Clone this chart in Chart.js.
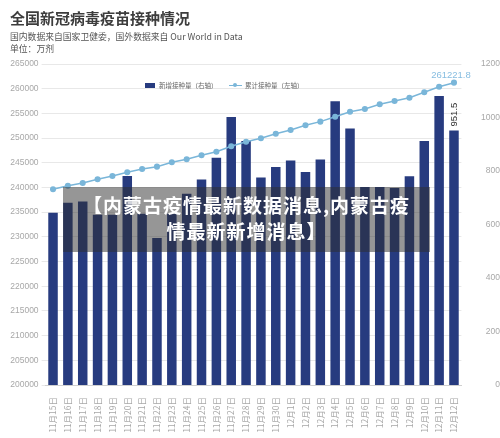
<!DOCTYPE html>
<html>
<head>
<meta charset="utf-8">
<script src="https://cdn.jsdelivr.net/npm/chart.js@4.4.1/dist/chart.umd.min.js"></script>
<style>
  html, body { margin: 0; padding: 0; background: #fff; }
  #wrap { position: relative; width: 500px; height: 438px; overflow: hidden;
          font-family: "Liberation Sans", "Noto Sans CJK SC", sans-serif; }
  #chart { position: absolute; left: 0; top: 0; }
  .title { position: absolute; left: 10px; top: 7px; font: bold 15px "Noto Sans CJK SC", sans-serif; color: #3d3d3d; }
  .sub { position: absolute; left: 10px; font-size: 8.8px; color: #555; font-family: "Noto Sans CJK SC", sans-serif; }
  .legend { position: absolute; top: 79px; left: 145px; font-size: 6.5px; color: #666; font-family: "Noto Sans CJK SC", sans-serif; }
  .legend span { display: inline-block; vertical-align: middle; }
  .sw { width: 10px; height: 5px; background: #273b7f; margin-right: 4px; }
  .ln { position: relative; width: 13px; height: 1px; background: #7ab6d9; margin: 0 3px 0 10px; }
  .ln:after { content: ""; position: absolute; left: 4.5px; top: -1.5px; width: 4px; height: 4px; border-radius: 50%; background: #7ab6d9; }
  .overlay { position: absolute; left: 63px; top: 187px; width: 367px; height: 65px;
             background: rgba(45, 45, 45, 0.5); color: #fff; text-align: center;
             font: bold 19px/26px "Noto Sans CJK SC", sans-serif; letter-spacing: 1px; padding-top: 5px; box-sizing: border-box; }
</style>
</head>
<body>
<div id="wrap">
  <canvas id="chart" width="500" height="438"></canvas>
  <div class="title">全国新冠病毒疫苗接种情况</div>
  <div class="sub" style="top:30px">国内数据来自国家卫健委，国外数据来自 Our World in Data</div>
  <div class="sub" style="top:42px">单位：万剂</div>
  <div class="legend">
    <span class="sw"></span><span>新增接种量（右轴）</span>
    <span class="ln"></span><span>累计接种量（左轴）</span>
  </div>
  <div class="overlay">【内蒙古疫情最新数据消息,内蒙古疫<br>情最新新增消息】</div>
</div>
<script>
// 日期
var days = ['11月15日', '11月16日', '11月17日', '11月18日', '11月19日', '11月20日', '11月21日',
    '11月22日', '11月23日', '11月24日', '11月25日', '11月26日', '11月27日', '11月28日',
    '11月29日', '11月30日', '12月1日', '12月2日', '12月3日', '12月4日', '12月5日',
    '12月6日', '12月7日', '12月8日', '12月9日', '12月10日', '12月11日', '12月12日'];

// 新增接种量（右轴，万剂）
var newDoses = [644, 681, 686, 636, 636, 781, 640, 550, 640, 715, 768, 850, 1002, 912,
    776, 815, 839, 796, 843, 1061, 959, 740, 740, 736, 780, 912, 1080, 951.5];

// 累计接种量（左轴，万剂）
var totalDoses = [239630, 240360, 240900, 241650, 242320, 243070, 243740, 244210, 245120,
    245700, 246510, 247240, 248340, 249270, 249960, 250890, 251640, 252590, 253330,
    254330, 255340, 255890, 256840, 257510, 258180, 259270, 260400, 261221.8];

// 坐标轴刻度
var leftAxis = {min: 200000, max: 265000, step: 5000};
var rightAxis = {min: 0, max: 1200, step: 200};

var tickColor = '#a8a8a8';
var numFont = '"Liberation Sans", Arial, sans-serif';

// 不要千分位
function plainTick(value) {
    return String(value);
}

// 最后一个点 / 柱子的数值标注
var lastLabels = {
    id: 'lastLabels',
    afterDatasetsDraw: function (chart) {
        var ctx = chart.ctx;
        var n = days.length - 1;
        var pt = chart.getDatasetMeta(1).data[n];
        var bar = chart.getDatasetMeta(0).data[n];
        ctx.save();
        ctx.font = '9.5px ' + numFont;
        ctx.fillStyle = '#86bde0';
        ctx.textAlign = 'center';
        ctx.textBaseline = 'bottom';
        ctx.fillText(totalDoses[n].toFixed(1), pt.x - 3, pt.y - 3);

        ctx.translate(bar.x, bar.y - 4);
        ctx.rotate(-Math.PI / 2);
        ctx.fillStyle = '#333';
        ctx.textAlign = 'left';
        ctx.textBaseline = 'middle';
        ctx.fillText(String(newDoses[n]), 0, 0);
        ctx.restore();
    }
};

new Chart(document.getElementById('chart'), {
    type: 'bar',
    data: {
        labels: days,
        datasets: [{
                type: 'bar',
                label: '新增接种量（右轴）',
                data: newDoses,
                yAxisID: 'yR',
                backgroundColor: '#273b7f',
                barPercentage: 0.64,
                categoryPercentage: 1,
                order: 2
            }, {
                type: 'line',
                label: '累计接种量（左轴）',
                data: totalDoses,
                yAxisID: 'yL',
                borderColor: '#7ab6d9',
                backgroundColor: '#7ab6d9',
                borderWidth: 1.5,
                pointRadius: 2.3,
                pointHoverRadius: 2.3,
                tension: 0,
                order: 1
            }]
    },
    options: {
        responsive: false,
        animation: false,
        layout: {padding: {top: 64, left: 0, right: 0, bottom: 0}},
        plugins: {
            legend: {display: false},
            tooltip: {enabled: false}
        },
        scales: {
            x: {
                grid: {display: false},
                border: {display: true, color: '#d0d0d0'},
                ticks: {
                    color: tickColor,
                    font: {size: 8.5, family: '"Noto Sans CJK SC", sans-serif'},
                    minRotation: 90,
                    maxRotation: 90,
                    autoSkip: false,
                    padding: 4
                },
                afterFit: function (scale) {
                    scale.height = 53;
                }
            },
            yL: {
                position: 'left',
                min: leftAxis.min,
                max: leftAxis.max,
                border: {display: false},
                grid: {color: '#e8e8e8', tickLength: 4},
                ticks: {
                    stepSize: leftAxis.step,
                    color: tickColor,
                    font: {size: 8.5, family: numFont},
                    padding: 3,
                    callback: plainTick
                },
                afterFit: function (scale) {
                    scale.width = 45.6;
                }
            },
            yR: {
                position: 'right',
                min: rightAxis.min,
                max: rightAxis.max,
                border: {display: false},
                grid: {display: false},
                ticks: {
                    stepSize: rightAxis.step,
                    color: tickColor,
                    font: {size: 8.5, family: numFont},
                    crossAlign: 'far',
                    padding: 11,
                    callback: plainTick
                },
                afterFit: function (scale) {
                    scale.width = 38.6;
                }
            }
        }
    },
    plugins: [lastLabels]
});
</script>
</body>
</html>
